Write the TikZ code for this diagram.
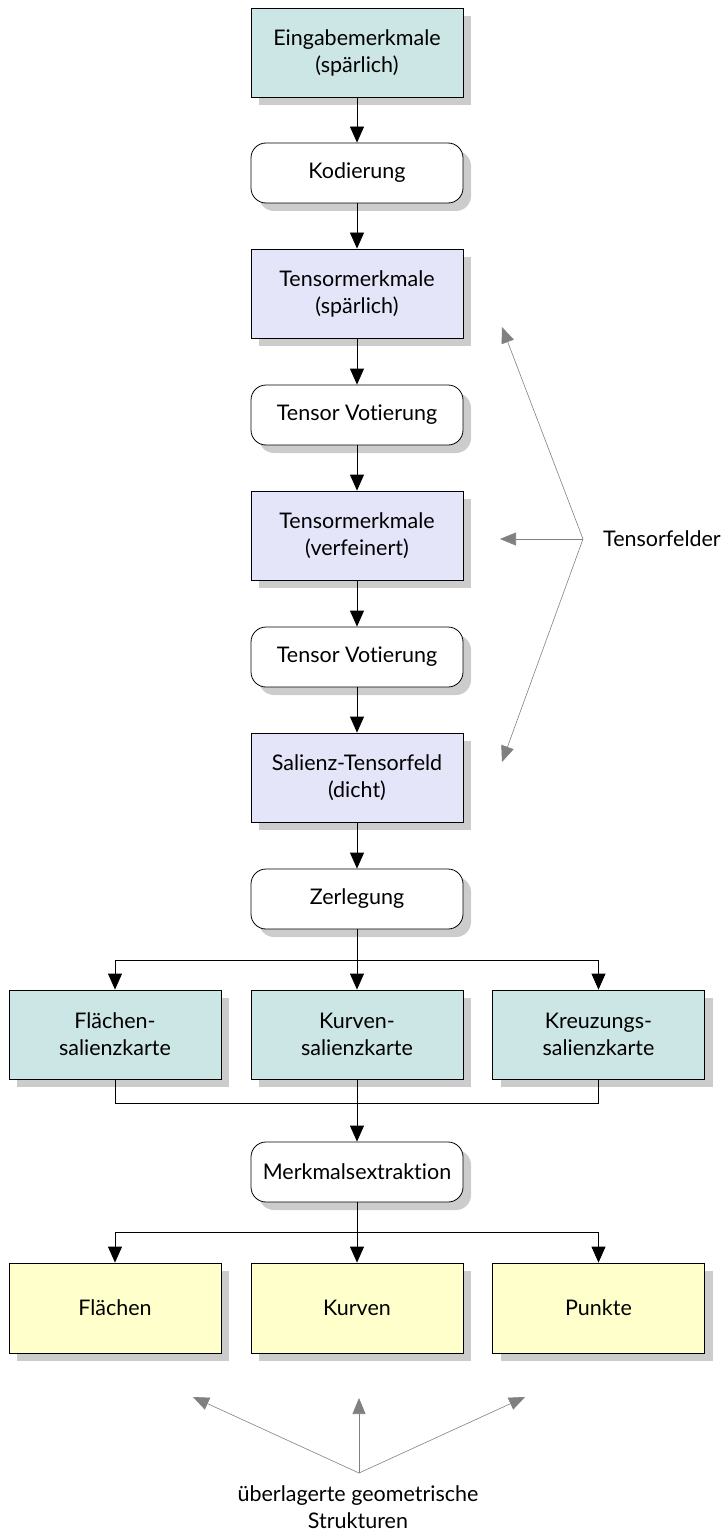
\documentclass[tikz,border=0pt]{standalone}
\usepackage{fontspec}
\setmainfont{Lato}[Ligatures=NoCommon]
\usetikzlibrary{arrows.meta,shadows}
\definecolor{teal1}{HTML}{CCE5E5}
\definecolor{lav1}{HTML}{E5E5FA}
\definecolor{yel1}{HTML}{FFFFCC}
\definecolor{shd}{HTML}{CCCCCC}
\definecolor{garrow}{HTML}{808080}
\begin{document}
\begin{tikzpicture}[x=1pt,y=-1pt,
  font=\fontsize{21.5}{27}\selectfont,
  box/.style={draw=black, line width=0.8pt, minimum width=212pt, minimum height=89pt,
    align=center, inner sep=2pt,
    drop shadow={shadow xshift=8pt, shadow yshift=-8pt, fill=shd, opacity=1}},
  tealbox/.style={box, fill=teal1},
  lavbox/.style={box, fill=lav1},
  yelbox/.style={box, fill=yel1, minimum height=90pt},
  roundbox/.style={box, fill=white, minimum height=60pt, rounded corners=15pt},
  arr/.style={line width=0.8pt, -{Triangle[width=14pt,length=16pt]}},
  ln/.style={line width=0.8pt},
  garr/.style={draw=garrow, line width=0.6pt, -{Triangle[width=13pt,length=16pt]}, color=garrow},
  lbl/.style={inner sep=0pt, align=center}
]
\useasboundingbox (0,0) rectangle (723,1538);

\node[tealbox] (n1) at (357,52.5) {Eingabemerkmale\\(spärlich)};
\node[roundbox] (n2) at (357,173) {Kodierung};
\node[lavbox] (n3) at (357,293.5) {Tensormerkmale\\(spärlich)};
\node[roundbox] (n4) at (357,415) {Tensor Votierung};
\node[lavbox] (n5) at (357,535.5) {Tensormerkmale\\(verfeinert)};
\node[roundbox] (n6) at (357,657) {Tensor Votierung};
\node[lavbox] (n7) at (357,777.5) {Salienz-Tensorfeld\\(dicht)};
\node[roundbox] (n8) at (357,899) {Zerlegung};

\node[tealbox] (k1) at (115,1034.5) {Flächen-\\salienzkarte};
\node[tealbox] (k2) at (357,1034.5) {Kurven-\\salienzkarte};
\node[tealbox] (k3) at (598.5,1034.5) {Kreuzungs-\\salienzkarte};

\node[roundbox] (mx) at (357,1172) {Merkmalsextraktion};

\node[yelbox] (y1) at (115,1308) {Flächen};
\node[yelbox] (y2) at (357,1308) {Kurven};
\node[yelbox] (y3) at (598.5,1308) {Punkte};

\draw[arr] (n1) -- (n2);
\draw[arr] (n2) -- (n3);
\draw[arr] (n3) -- (n4);
\draw[arr] (n4) -- (n5);
\draw[arr] (n5) -- (n6);
\draw[arr] (n6) -- (n7);
\draw[arr] (n7) -- (n8);

\coordinate (br1) at (357,960);
\draw[ln] (n8.south) -- (br1);
\draw[arr] (br1) -| (k1.north);
\draw[arr] (br1) -| (k3.north);
\draw[arr] (br1) -- (k2.north);

\coordinate (mg) at (357,1103);
\draw[ln] (k1.south) |- (mg);
\draw[ln] (k3.south) |- (mg);
\draw[arr] (k2.south) -- (mx.north);

\coordinate (br2) at (357,1232);
\draw[ln] (mx.south) -- (br2);
\draw[arr] (br2) -| (y1.north);
\draw[arr] (br2) -| (y3.north);
\draw[arr] (br2) -- (y2.north);

% Tensorfelder
\coordinate (tf) at (583,539);
\coordinate (tf1) at (502,327);
\coordinate (tf2) at (500,539);
\coordinate (tf3) at (502,762);
\node[lbl, anchor=west] (tfl) at (603,539) {Tensorfelder};
\draw[garr] (tf) -- (tf1);
\draw[garr] (tf) -- (tf2);
\draw[garr] (tf) -- (tf3);

% geometric structures
\coordinate (gs) at (359,1473);
\coordinate (gs1) at (193,1397);
\coordinate (gs2) at (359,1398);
\coordinate (gs3) at (525,1397);
\draw[garr] (gs) -- (gs1);
\draw[garr] (gs) -- (gs2);
\draw[garr] (gs) -- (gs3);
\node[lbl, anchor=north] (gsl) at (358,1485) {überlagerte geometrische\\Strukturen};
\end{tikzpicture}
\end{document}
